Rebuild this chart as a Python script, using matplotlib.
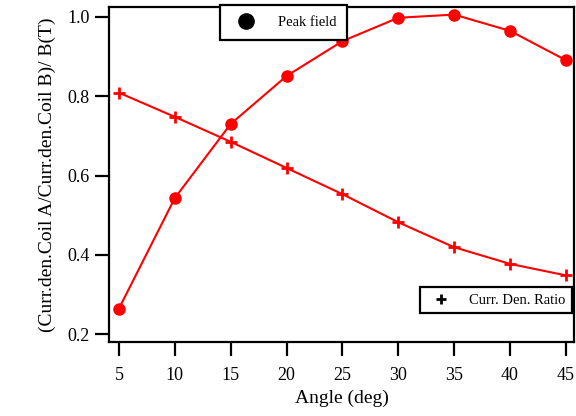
import matplotlib
matplotlib.use('Agg')
import matplotlib.pyplot as plt
from matplotlib.lines import Line2D

# angle (deg)
angles = [5, 10, 15, 20, 25, 30, 35, 40, 45]
# normalised peak field
peak_field = [0.264, 0.543, 0.730, 0.851, 0.939, 0.998, 1.006, 0.965, 0.891]
# current density ratio coil A / coil B
curr_ratio = [0.809, 0.748, 0.685, 0.619, 0.553, 0.482, 0.419, 0.377, 0.348]

xticks = [5, 10, 15, 20, 25, 30, 35, 40, 45]
yticks = [0.2, 0.4, 0.6, 0.8, 1.0]

plt.rcParams['font.family'] = ['Liberation Serif', 'DejaVu Serif']

fig = plt.figure(figsize=(5.76, 4.16), dpi=100)
ax = fig.add_axes([0.189, 0.178, 0.808, 0.805])

ax.plot(angles, peak_field, color='red', lw=1.5, marker='o', ms=8, zorder=3, clip_on=False)
ax.plot(angles, curr_ratio, color='red', lw=1.5, marker='+', ms=9, mew=2, zorder=3)

ax.set_xlim(4.1, 45.75)
ax.set_ylim(0.18, 1.025)
ax.set_xticks(xticks)
ax.set_yticks(yticks)
ax.set_yticklabels([f'{v:.1f}' for v in yticks])

for s in ax.spines.values():
    s.set_linewidth(1.6)
ax.tick_params(direction='out', length=10, width=1.6, labelsize=13, pad=4)
ax.tick_params(axis='x', pad=8)

ax.set_xlabel('Angle (deg)', fontsize=14, labelpad=4)
ax.set_ylabel('(Curr.den.Coil A/Curr.den.Coil B)/ B(T)', fontsize=14, labelpad=8)

# legend boxes
h1 = Line2D([], [], color='black', marker='o', ms=11, ls='none')
leg1 = ax.legend([h1], ['Peak field'], loc='upper left', bbox_to_anchor=(0.239, 1.006),
                 borderaxespad=0, frameon=True, fancybox=False, fontsize=10.5,
                 handletextpad=1.2, borderpad=0.75, edgecolor='black', framealpha=1)
leg1.get_frame().set_linewidth(1.6)
leg1.set_zorder(5)
ax.add_artist(leg1)

h2 = Line2D([], [], color='black', marker='+', ms=7, mew=2, ls='none')
leg2 = ax.legend([h2], ['Curr. Den. Ratio'], loc='upper left', bbox_to_anchor=(0.669, 0.164),
                 borderaxespad=0, frameon=True, fancybox=False, fontsize=10.5,
                 handletextpad=0.9, borderpad=0.45, edgecolor='black', framealpha=1)
leg2.get_frame().set_linewidth(1.6)
leg2.set_zorder(5)

fig.savefig('out.png', dpi=100)
